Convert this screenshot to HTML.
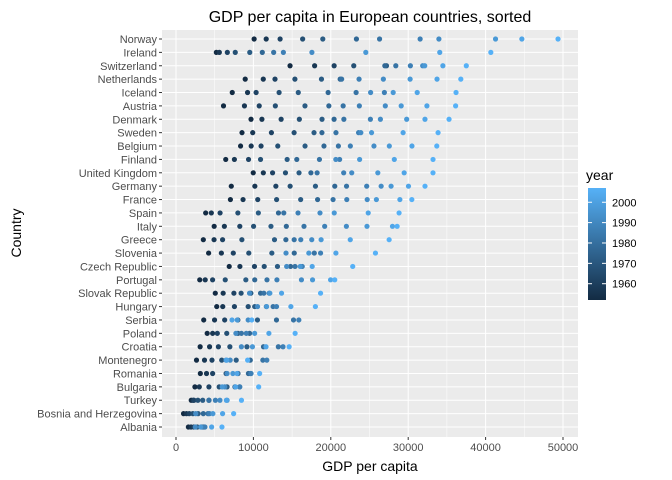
<!DOCTYPE html>
<html><head><meta charset="utf-8"><style>
body{margin:0;background:#fff}
svg{display:block;font-family:"Liberation Sans",Arial,sans-serif}
</style></head><body>
<svg id="c" width="672" height="480"></svg>
<script>
const countries=["Norway","Ireland","Switzerland","Netherlands","Iceland","Austria","Denmark","Sweden","Belgium","Finland","United Kingdom","Germany","France","Spain","Italy","Greece","Slovenia","Czech Republic","Portugal","Slovak Republic","Hungary","Serbia","Poland","Croatia","Montenegro","Romania","Bulgaria","Turkey","Bosnia and Herzegovina","Albania"];
const years=[1952,1957,1962,1967,1972,1977,1982,1987,1992,1997,2002,2007];
const gdp={
"Norway":[10095,11654,13450,16362,18965,23311,26299,31541,33966,41283,44684,49357],
"Ireland":[5211,5599,6632,7656,9531,11151,12618,13873,17559,24522,34077,40676],
"Switzerland":[14734,17909,20431,22966,27195,26982,28398,30282,31872,32135,34481,37506],
"Netherlands":[8942,11277,12791,15363,18795,21210,21400,23651,26791,30246,33725,36798],
"Iceland":[7268,9244,10350,13320,15798,19655,23270,26923,25144,28061,31163,36181],
"Austria":[6137,8843,10751,12835,16662,19749,21597,23688,27042,29096,32418,36126],
"Denmark":[9692,11100,13583,15937,18866,20423,21688,25116,26407,29804,32167,35278],
"Sweden":[8528,9912,12329,15258,17832,18856,20667,23587,23880,25267,29342,33860],
"Belgium":[8343,9715,10991,13149,16672,19118,20980,22526,25576,27561,30486,33693],
"Finland":[6425,7545,9372,10922,14359,15605,18533,21141,20647,23724,28205,33207],
"United Kingdom":[9980,11283,12477,14143,15895,17429,18232,21665,22705,26075,29479,33203],
"Germany":[7144,10188,12902,14746,18016,20513,22032,24639,26505,27789,30036,32170],
"France":[7030,8663,10560,12999,16107,18293,20294,22066,24704,25890,28926,30470],
"Spain":[3834,4565,5694,7993,10639,13237,13926,15765,18603,20445,24835,28821],
"Italy":[4931,6249,8244,10022,12269,14256,16537,19208,22014,24675,27968,28570],
"Greece":[3531,4916,6017,8513,12725,14196,15268,16121,17541,18748,22514,27538],
"Slovenia":[4215,5862,7402,9405,12383,15277,17867,18678,14214,17161,20660,25768],
"Czech Republic":[6876,8256,10137,11399,13108,14800,15377,16310,14297,16049,17596,22833],
"Portugal":[3068,3775,4728,6362,9022,10172,11754,13039,16207,17641,19971,20510],
"Slovak Republic":[5075,6093,7481,8412,9674,10922,11348,12038,9498,12127,13638,18678],
"Hungary":[5264,6040,7550,9326,10168,11675,12546,12986,10535,11712,14843,18009],
"Serbia":[3581,4981,6289,7992,10523,12980,15181,15871,9325,7914,7236,9787],
"Poland":[4029,4734,5339,6557,8007,9508,8452,9082,7739,10160,12002,15390],
"Croatia":[3119,4338,5478,6960,9164,11305,13222,13823,8448,9876,11628,14619],
"Montenegro":[2648,3682,4650,5907,7779,9596,11222,11733,7003,6465,6558,9254],
"Romania":[3145,3943,4734,6471,8011,9356,9605,9697,6599,7347,7886,10808],
"Bulgaria":[2444,3009,4255,5578,6597,7612,8225,8239,6303,5970,7697,10681],
"Turkey":[1969,2219,2323,2826,3450,4269,4241,5089,5678,6601,6508,8458],
"Bosnia and Herzegovina":[974,1354,1710,2172,2860,3528,4127,4314,2547,4766,6019,7446],
"Albania":[1601,1942,2313,2760,3313,3533,3631,3739,2497,3193,4604,5937]};
const xTicks=[0,10000,20000,30000,40000,50000];
const legendTicks=[1960,1970,1980,1990,2000];

const NS="http://www.w3.org/2000/svg";
const svg=document.getElementById('c');
function el(t,a,p){const e=document.createElementNS(NS,t);for(const k in a)e.setAttribute(k,a[k]);(p||svg).appendChild(e);return e;}
const PL=162,PR=578,PT=30,PB=437;
const x=v=>176+v*(563-176)/50000;
const yTop=39,yStep=(427-39)/(countries.length-1);
const y=i=>yTop+i*yStep;
const ymin=Math.min(...years),ymax=Math.max(...years);
function col(yr){const t=(yr-ymin)/(ymax-ymin);const a=[19,43,67],b=[86,177,247];return `rgb(${a.map((v,i)=>Math.round(v+(b[i]-v)*t)).join(',')})`;}

let e=el('rect',{x:PL,y:PT,width:PR-PL,height:PB-PT,fill:'#EBEBEB'});

for(let i=0;i<xTicks.length-1;i++){const m=(xTicks[i]+xTicks[i+1])/2;e=el('line',{x1:x(m),x2:x(m),y1:PT,y2:PB,stroke:'#fff','stroke-width':0.5});}
xTicks.forEach(t=>{e=el('line',{x1:x(t),x2:x(t),y1:PT,y2:PB,stroke:'#fff','stroke-width':1});
e=el('line',{x1:x(t),x2:x(t),y1:PB,y2:PB+3,stroke:'#333'});
e=el('text',{x:x(t),y:PB+14,'font-size':11,fill:'#4D4D4D','text-anchor':'middle'});e.textContent=t;});
countries.forEach((c,i)=>{e=el('line',{x1:PL,x2:PR,y1:y(i),y2:y(i),stroke:'#fff','stroke-width':1});
e=el('line',{x1:PL-3,x2:PL,y1:y(i),y2:y(i),stroke:'#333'});
e=el('text',{x:PL-5,y:y(i)+4,'font-size':11,fill:'#4D4D4D','text-anchor':'end'});e.textContent=c;});
countries.forEach((c,i)=>{gdp[c].forEach((v,j)=>{e=el('circle',{cx:x(v),cy:y(i),r:2.6,fill:col(years[j])});});});
e=el('text',{x:370,y:22,'font-size':16,fill:'#000','text-anchor':'middle'});e.textContent='GDP per capita in European countries, sorted';
e=el('text',{x:370,y:471,'font-size':14,fill:'#000','text-anchor':'middle'});e.textContent='GDP per capita';
e=el('text',{x:21,y:233,'font-size':14,fill:'#000','text-anchor':'middle',transform:'rotate(-90 21 233)'});e.textContent='Country';
// legend
const defs=el('defs',{});const g=el('linearGradient',{id:'lg',x1:0,y1:1,x2:0,y2:0},defs);
el('stop',{offset:0,'stop-color':col(ymin)},g);el('stop',{offset:1,'stop-color':col(ymax)},g);
const LT=188,LB=300,LX=588,LW=18;
const ly=yr=>LB-(yr-ymin)*(LB-LT)/(ymax-ymin);
e=el('text',{x:586,y:180,'font-size':14,fill:'#000'});e.textContent='year';
e=el('rect',{x:LX,y:LT,width:LW,height:LB-LT,fill:'url(#lg)'});
legendTicks.forEach(t=>{el('line',{x1:LX,x2:LX+4,y1:ly(t),y2:ly(t),stroke:'#fff'});el('line',{x1:LX+LW-4,x2:LX+LW,y1:ly(t),y2:ly(t),stroke:'#fff'});
e=el('text',{x:LX+LW+6,y:ly(t)+4,'font-size':11,fill:'#000'});e.textContent=t;});
</script>
</body></html>
